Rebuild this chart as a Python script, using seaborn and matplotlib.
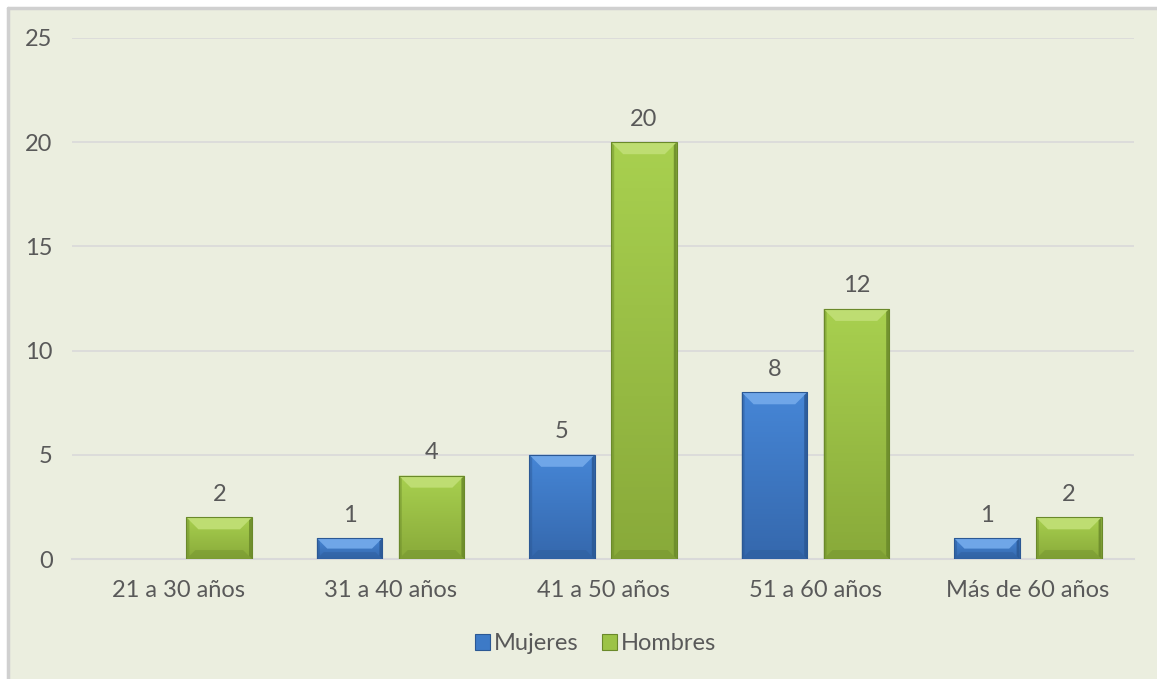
import numpy as np
import pandas as pd
import matplotlib
matplotlib.use("Agg")
import matplotlib.pyplot as plt
from matplotlib.patches import Polygon, Rectangle
import seaborn as sns

# Data
categories = ["21 a 30 años", "31 a 40 años", "41 a 50 años", "51 a 60 años", "Más de 60 años"]
mujeres = [np.nan, 1, 5, 8, 1]
hombres = [2, 4, 20, 12, 2]
series_names = ["Mujeres", "Hombres"]
y_ticks = [0, 5, 10, 15, 20, 25]

BG = "#EBEEDF"
TEXT = "#595959"
GRID = "#D9D9D9"
FS = 17
palette = {"Mujeres": "#3D7AC7", "Hombres": "#9CC346"}
shades = {
    "Mujeres": dict(top="#4686D6", bottom="#3568AD", bevel="#6FA6E8", edge="#2B5894"),
    "Hombres": dict(top="#A8D04F", bottom="#89AA3A", bevel="#BEDD72", edge="#6A892A"),
}

df = pd.DataFrame({
    "Edad": categories * 2,
    "Serie": [series_names[0]] * len(categories) + [series_names[1]] * len(categories),
    "Valor": mujeres + hombres,
})

sns.set_theme(style="white")
plt.rcParams["font.family"] = ["Lato", "DejaVu Sans"]

fig = plt.figure(figsize=(11.57, 6.79), dpi=100)
fig.patch.set_facecolor("white")
# chart area background with a light border on the left and top
fig.add_artist(Rectangle((8 / 1157, 0), 1, 1 - 9 / 679, transform=fig.transFigure,
                         facecolor=BG, edgecolor="none", zorder=-2))
fig.add_artist(plt.Line2D([8 / 1157, 8 / 1157], [0, 1 - 8 / 679], transform=fig.transFigure,
                          color="#D0D0D0", lw=2.5, zorder=-1))
fig.add_artist(plt.Line2D([8 / 1157, 1], [1 - 8 / 679, 1 - 8 / 679], transform=fig.transFigure,
                          color="#D0D0D0", lw=2.5, zorder=-1))

ax = fig.add_axes([72 / 1157, 1 - 559 / 679, (1134 - 72) / 1157, (559 - 38) / 679])
ax.set_facecolor("none")

sns.barplot(data=df, x="Edad", y="Valor", hue="Serie", order=categories,
            hue_order=series_names, palette=palette, width=0.772, gap=0.2,
            saturation=1, edgecolor="none", ax=ax, zorder=3)

ax.set_ylim(0, 25)
ax.set_xlim(-0.5, len(categories) - 0.5)
ax.set_yticks(y_ticks)
ax.yaxis.grid(True, color=GRID, lw=1.2, zorder=0)
ax.set_axisbelow(True)
for s in ["top", "right", "left"]:
    ax.spines[s].set_visible(False)
ax.spines["bottom"].set_color(GRID)
ax.spines["bottom"].set_linewidth(1.5)
ax.tick_params(axis="both", length=0, labelsize=FS, labelcolor=TEXT)
ax.tick_params(axis="y", pad=14)
ax.tick_params(axis="x", pad=15)
ax.set_xlabel("")
ax.set_ylabel("")

fig.canvas.draw()
inv = ax.transData.inverted()


def to_data(px, py):
    return inv.transform((px, py))


# Bevelled look for every bar
for cont, name in zip(ax.containers, series_names):
    sh = shades[name]
    cmap = matplotlib.colors.LinearSegmentedColormap.from_list(name, [sh["bottom"], sh["top"]])
    for patch in cont.patches:
        h = patch.get_height()
        if not np.isfinite(h) or h <= 0:
            continue
        x0, y0 = patch.get_x(), patch.get_y()
        x1, y1 = x0 + patch.get_width(), y0 + h
        grad = np.linspace(0, 1, 64).reshape(-1, 1)
        im = ax.imshow(grad, extent=(x0, x1, y0, y1), origin="lower", aspect="auto",
                       cmap=cmap, zorder=3.5)
        im.set_clip_path(patch)
        (dx0, dy0) = ax.transData.transform((x0, y0))
        (dx1, dy1) = ax.transData.transform((x1, y1))
        d = min(12, (dy1 - dy0) / 2)
        db = min(9, (dy1 - dy0) / 3)
        s = 3
        top = [to_data(dx0, dy1), to_data(dx1, dy1), to_data(dx1 - d, dy1 - d), to_data(dx0 + d, dy1 - d)]
        ax.add_patch(Polygon(top, closed=True, facecolor=sh["bevel"], edgecolor="none", zorder=4))
        right = [to_data(dx1, dy1), to_data(dx1, dy0), to_data(dx1 - s, dy0 + s), to_data(dx1 - s, dy1 - s)]
        ax.add_patch(Polygon(right, closed=True, facecolor=sh["edge"], edgecolor="none", alpha=0.85, zorder=4))
        left = [to_data(dx0, dy1), to_data(dx0, dy0), to_data(dx0 + s, dy0 + s), to_data(dx0 + s, dy1 - s)]
        ax.add_patch(Polygon(left, closed=True, facecolor=sh["edge"], edgecolor="none", alpha=0.45, zorder=4))
        bottom = [to_data(dx0, dy0), to_data(dx1, dy0), to_data(dx1 - db, dy0 + db), to_data(dx0 + db, dy0 + db)]
        ax.add_patch(Polygon(bottom, closed=True, facecolor=sh["edge"], edgecolor="none", alpha=0.35, zorder=4))
        ax.add_patch(Rectangle((x0, y0), x1 - x0, h, facecolor="none",
                               edgecolor=sh["edge"], lw=0.8, zorder=4.5))
        ax.annotate(f"{h:g}", (patch.get_x() + patch.get_width() / 2, y1),
                    xytext=(0, 9), textcoords="offset points", ha="center", va="bottom",
                    fontsize=FS, color=TEXT)

leg = ax.legend(loc="center", bbox_to_anchor=(0.493, -0.163), ncol=2, frameon=False,
                fontsize=FS, labelcolor=TEXT, handlelength=0.65, handleheight=0.65,
                handletextpad=0.15, columnspacing=1.0)
for hnd, name in zip(leg.legend_handles, series_names):
    hnd.set_edgecolor(shades[name]["edge"])
    hnd.set_linewidth(0.8)

fig.savefig("out.png", dpi=100, facecolor=fig.get_facecolor())
